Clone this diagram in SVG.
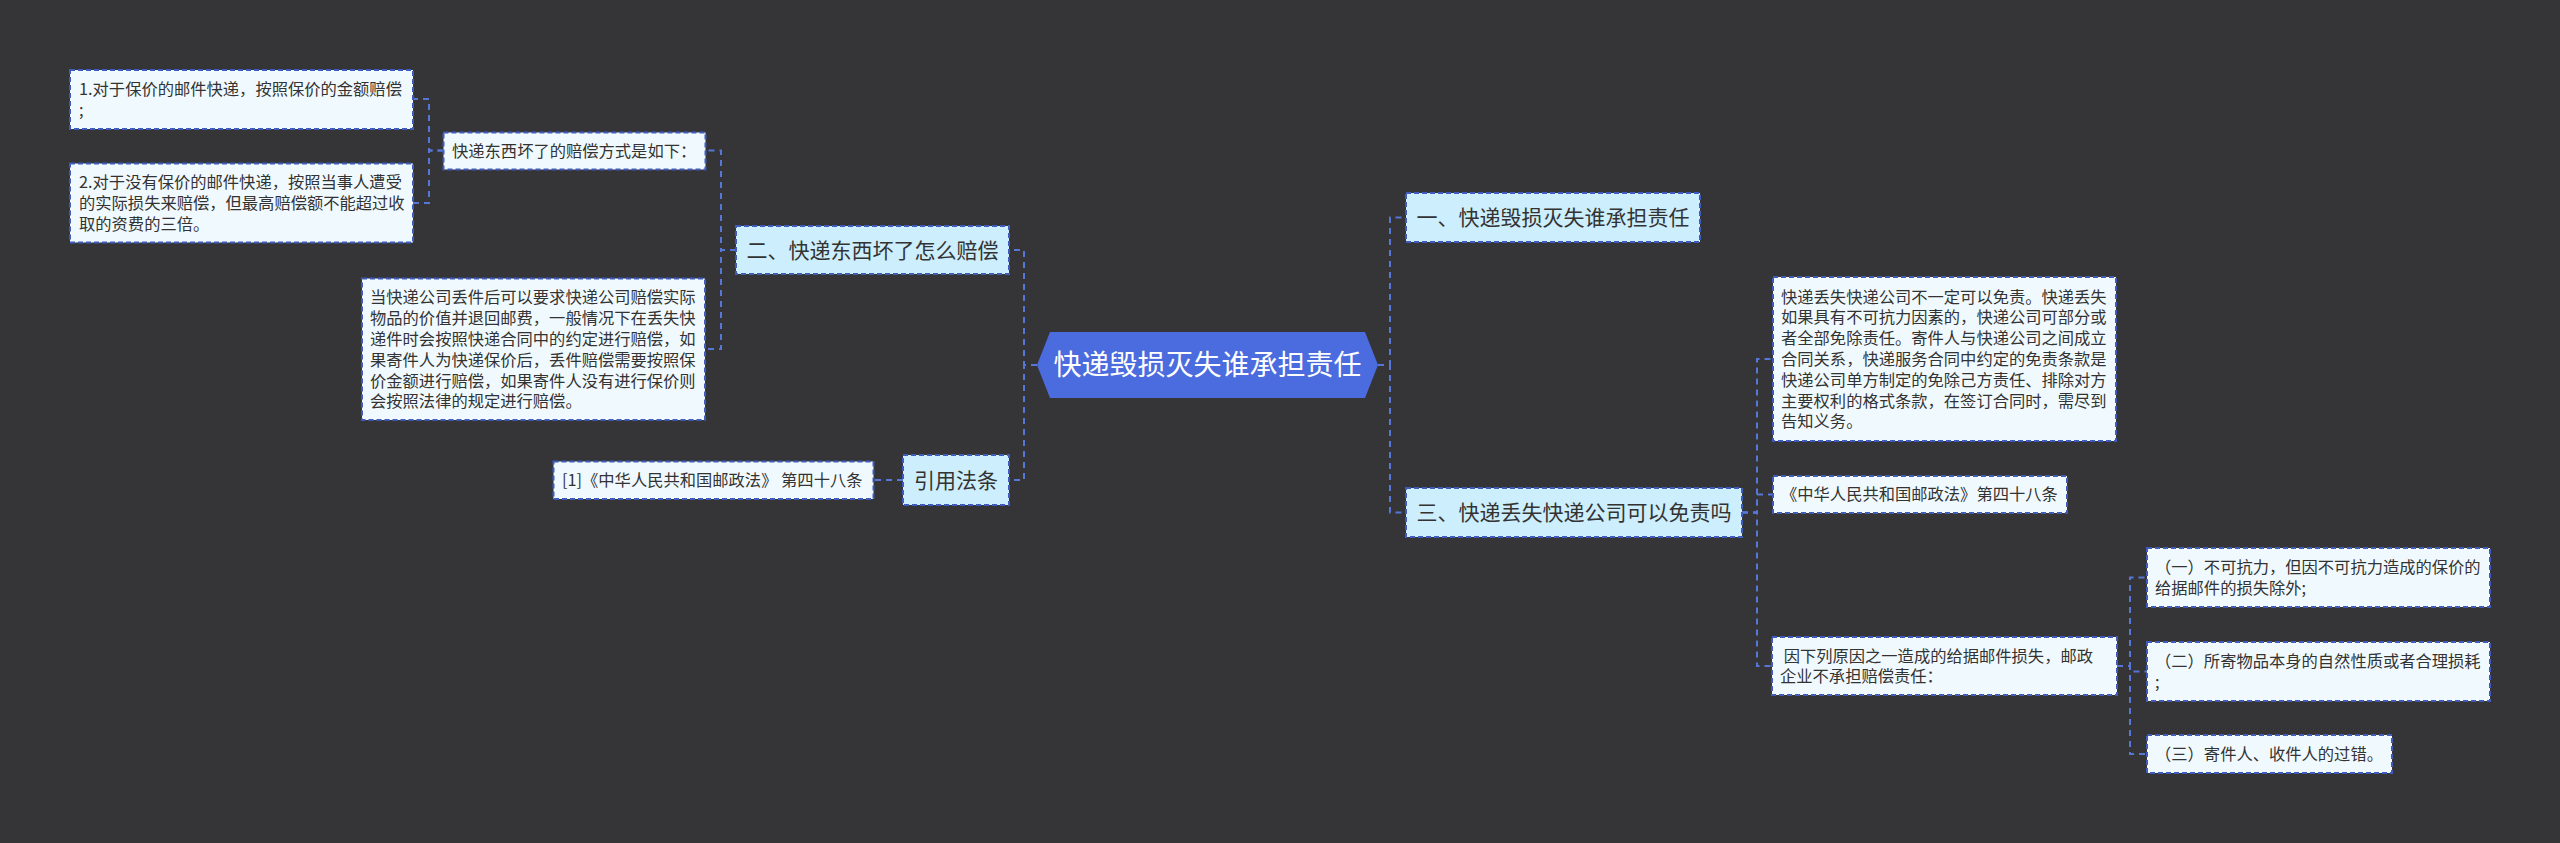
<svg xmlns="http://www.w3.org/2000/svg" width="2560" height="843" viewBox="0 0 2560 843">
<style>
text{font-family:"Noto Sans CJK SC","Microsoft YaHei",sans-serif;fill:#333333;}
.leaf{fill:#f0fafe;stroke:#3f5cbc;stroke-width:2;stroke-dasharray:5 3;}
.l1{fill:#cdeefc;stroke:#3f5cbc;stroke-width:2;stroke-dasharray:5 3;}
.t16{font-size:16.3px;}
.t21{font-size:21px;}
.mid{text-anchor:middle;}
.conn path{fill:none;stroke:#5676d8;stroke-width:2;stroke-dasharray:6 5;}
</style>
<rect width="2560" height="843" fill="#353437"/>
<g class="conn" id="connectors">
<path d="M1378 365 H1390 V217.5 H1406"/>
<path d="M1378 365 H1390 V512.5 H1406"/>
<path d="M1742 512.5 H1757 V359 H1773"/>
<path d="M1742 512.5 H1757 V494.5 H1773"/>
<path d="M1742 512.5 H1757 V666 H1772"/>
<path d="M2117 666 H2130 V577.5 H2147"/>
<path d="M2117 666 H2130 V671.5 H2147"/>
<path d="M2117 666 H2130 V754 H2147"/>
<path d="M1037 365 H1024 V250 H1009"/>
<path d="M1037 365 H1024 V480 H1009"/>
<path d="M736 250 H721 V150.5 H705.5"/>
<path d="M736 250 H721 V349 H705"/>
<path d="M443.5 150.5 H429 V99 H413"/>
<path d="M443.5 150.5 H429 V203 H413"/>
<path d="M903 480 H874"/>
</g>
<g id="root">
<polygon points="1037,365 1050,332 1365,332 1378,365 1365,398 1050,398" fill="#4b6cde"/>
<text x="1207.5" y="375" class="mid" style="font-size:28px;fill:#ffffff">快递毁损灭失谁承担责任</text>
</g>
<g id="b1">
<rect class="l1" x="1406" y="193" width="294" height="49"/>
<text x="1553" y="225.3" class="t21 mid">一、快递毁损灭失谁承担责任</text>
</g>
<g id="b3">
<rect class="l1" x="1406" y="488" width="336" height="49"/>
<text x="1574" y="520.3" class="t21 mid">三、快递丢失快递公司可以免责吗</text>
</g>
<g id="b2">
<rect class="l1" x="736" y="226" width="273" height="48"/>
<text x="872.5" y="257.8" class="t21 mid">二、快递东西坏了怎么赔偿</text>
</g>
<g id="bref">
<rect class="l1" x="903" y="455" width="106" height="50"/>
<text x="956" y="487.8" class="t21 mid">引用法条</text>
</g>
<g id="n3a">
<rect class="leaf" x="1773" y="277" width="343" height="164"/>
<text class="t16"><tspan x="1781" y="302.6">快递丢失快递公司不一定可以免责。快递丢失</tspan><tspan x="1781" y="323.4">如果具有不可抗力因素的，快递公司可部分或</tspan><tspan x="1781" y="344.2">者全部免除责任。寄件人与快递公司之间成立</tspan><tspan x="1781" y="365">合同关系，快递服务合同中约定的免责条款是</tspan><tspan x="1781" y="385.8">快递公司单方制定的免除己方责任、排除对方</tspan><tspan x="1781" y="406.6">主要权利的格式条款，在签订合同时，需尽到</tspan><tspan x="1781" y="427.4">告知义务。</tspan></text>
</g>
<g id="n3b">
<rect class="leaf" x="1773" y="476" width="294" height="37"/>
<text class="t16" x="1781" y="500.4">《中华人民共和国邮政法》第四十八条</text>
</g>
<g id="n3c">
<rect class="leaf" x="1772" y="637" width="345" height="58"/>
<text class="t16" style="white-space:pre"><tspan x="1780" y="661.5"> 因下列原因之一造成的给据邮件损失，邮政</tspan><tspan x="1780" y="682.3">企业不承担赔偿责任：</tspan></text>
</g>
<g id="c1">
<rect class="leaf" x="2147" y="548" width="343" height="59"/>
<text class="t16"><tspan x="2155" y="573">（一）不可抗力，但因不可抗力造成的保价的</tspan><tspan x="2155" y="593.8">给据邮件的损失除外;</tspan></text>
</g>
<g id="c2">
<rect class="leaf" x="2147" y="642" width="343" height="59"/>
<text class="t16"><tspan x="2155" y="667">（二）所寄物品本身的自然性质或者合理损耗</tspan><tspan x="2155" y="687.8">;</tspan></text>
</g>
<g id="c3">
<rect class="leaf" x="2147" y="735" width="245" height="38"/>
<text class="t16" x="2155" y="759.9">（三）寄件人、收件人的过错。</text>
</g>
<g id="m">
<rect class="leaf" x="443.5" y="132.5" width="262" height="37"/>
<text class="t16" x="452" y="156.9">快递东西坏了的赔偿方式是如下：</text>
</g>
<g id="n1">
<rect class="leaf" x="70" y="70" width="343" height="59"/>
<text class="t16"><tspan x="79" y="95">1.对于保价的邮件快递，按照保价的金额赔偿</tspan><tspan x="79" y="115.8">;</tspan></text>
</g>
<g id="n2">
<rect class="leaf" x="70" y="163.5" width="343" height="79"/>
<text class="t16"><tspan x="79" y="188.3">2.对于没有保价的邮件快递，按照当事人遭受</tspan><tspan x="79" y="209.1">的实际损失来赔偿，但最高赔偿额不能超过收</tspan><tspan x="79" y="229.9">取的资费的三倍。</tspan></text>
</g>
<g id="nleft">
<rect class="leaf" x="362" y="278.5" width="343" height="141.5"/>
<text class="t16"><tspan x="370" y="303.3">当快递公司丢件后可以要求快递公司赔偿实际</tspan><tspan x="370" y="324.1">物品的价值并退回邮费，一般情况下在丢失快</tspan><tspan x="370" y="344.9">递件时会按照快递合同中的约定进行赔偿，如</tspan><tspan x="370" y="365.7">果寄件人为快递保价后，丢件赔偿需要按照保</tspan><tspan x="370" y="386.5">价金额进行赔偿，如果寄件人没有进行保价则</tspan><tspan x="370" y="407.3">会按照法律的规定进行赔偿。</tspan></text>
</g>
<g id="nref">
<rect class="leaf" x="553.5" y="461.5" width="320" height="37.5"/>
<text class="t16" x="562" y="486.1">[1]《中华人民共和国邮政法》 第四十八条</text>
</g>
</svg>
